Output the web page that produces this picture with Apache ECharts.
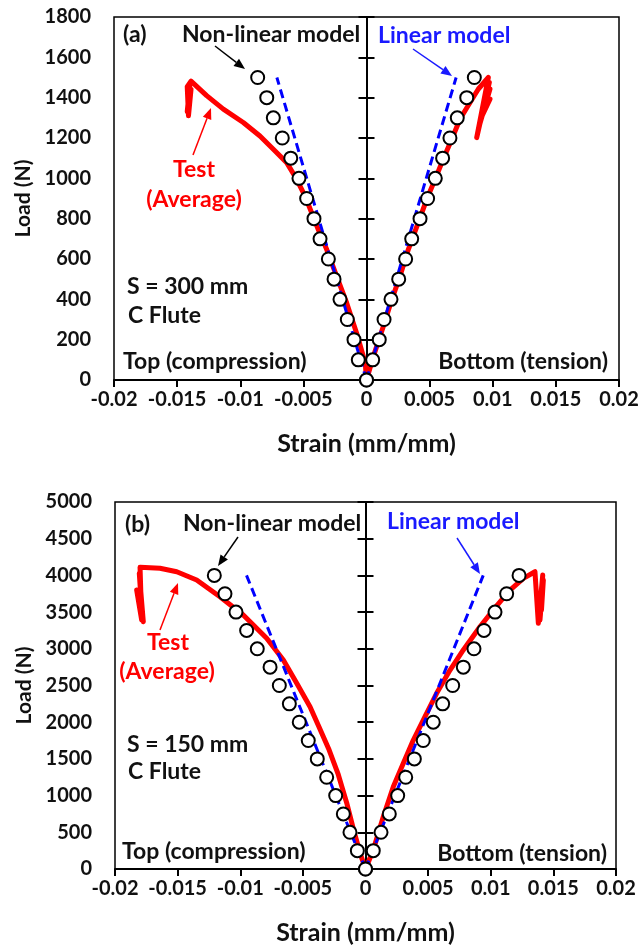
<!DOCTYPE html>
<html>
<head>
<meta charset="utf-8">
<script src="https://cdn.jsdelivr.net/npm/echarts@6/dist/echarts.min.js"></script>
<style>
  html, body { margin: 0; padding: 0; background: #fff; }
  #chart { width: 643px; height: 951px; }
</style>
</head>
<body>
<div id="chart"></div>
<script>
// x ticks (strain) shared by both panels
var strainTicks = [-0.02, -0.015, -0.01, -0.005, 0, 0.005, 0.01, 0.015, 0.02];
var strainLabels = ["-0.02", "-0.015", "-0.01", "-0.005", "0", "0.005", "0.01", "0.015", "0.02"];
var loadTicksA = [0, 200, 400, 600, 800, 1000, 1200, 1400, 1600, 1800];
var loadTicksB = [0, 500, 1000, 1500, 2000, 2500, 3000, 3500, 4000, 4500, 5000];

// (a) S = 300 mm
var nlLoadA = [0, 100, 200, 300, 400, 500, 600, 700, 800, 900, 1000, 1100, 1200, 1300, 1400, 1500];
var nlCompA = [0, -0.00065, -0.00099, -0.00152, -0.0021, -0.00257, -0.00302, -0.00368, -0.00416, -0.00474, -0.00535, -0.006, -0.00667, -0.00738, -0.0079, -0.00862];
var nlTensA = [0, 0.00049, 0.00101, 0.00139, 0.00194, 0.00255, 0.0031, 0.00358, 0.00424, 0.00484, 0.00545, 0.00603, 0.00661, 0.00719, 0.00794, 0.00854];
var linLoadA = [0, 1500];
var linCompA = [0, -0.0071];
var linTensA = [0, 0.0071];
var testCompStrainA = [0, -0.0001, -0.00078, -0.00157, -0.00236, -0.00315, -0.00382, -0.00434, -0.00487, -0.00553, -0.00632, -0.00738, -0.00844, -0.00976, -0.01134, -0.01266, -0.0139, -0.0142, -0.0141, -0.0139, -0.0142, -0.014, -0.0141];
var testCompLoadA = [0, 85, 232, 382, 514, 647, 746, 829, 912, 995, 1078, 1144, 1210, 1277, 1343, 1410, 1482, 1455, 1310, 1440, 1330, 1460, 1320];
var testTensStrainA = [0, 0.00054, 0.00133, 0.002, 0.00265, 0.00331, 0.0041, 0.00477, 0.00543, 0.00608, 0.00675, 0.00741, 0.0082, 0.00886, 0.00965, 0.00873, 0.00973, 0.00886, 0.00978, 0.00904, 0.00978];
var testTensLoadA = [0, 116, 265, 398, 514, 647, 780, 896, 995, 1095, 1194, 1294, 1376, 1443, 1500, 1202, 1476, 1244, 1443, 1294, 1393];

// (b) S = 150 mm
var nlLoadB = [0, 250, 500, 750, 1000, 1250, 1500, 1750, 2000, 2250, 2500, 2750, 3000, 3250, 3500, 3750, 4000];
var nlCompB = [0, -0.00065, -0.00124, -0.00177, -0.00238, -0.0031, -0.00385, -0.00457, -0.00529, -0.00608, -0.00688, -0.00762, -0.00864, -0.00949, -0.01034, -0.01122, -0.01207];
var nlTensB = [0, 0.00062, 0.00124, 0.0019, 0.00257, 0.00321, 0.0039, 0.00461, 0.00541, 0.00616, 0.00696, 0.00781, 0.00866, 0.00946, 0.01034, 0.01127, 0.01226];
var linLoadB = [0, 4000];
var linCompB = [0, -0.0095];
var linTensB = [0, 0.0094];
var testCompStrainB = [0, -0.0004, -0.0009, -0.0015, -0.0022, -0.0029, -0.0037, -0.00443, -0.00549, -0.00656, -0.00789, -0.00976, -0.01162, -0.01348, -0.01507, -0.01641, -0.018, -0.01787, -0.01827, -0.01774, -0.01806, -0.01784];
var testCompLoadB = [0, 200, 500, 900, 1300, 1620, 1930, 2211, 2530, 2847, 3143, 3460, 3710, 3937, 4050, 4097, 4110, 3392, 3801, 3369, 4028, 3460];
var testTensStrainB = [0, 0.00062, 0.00142, 0.00222, 0.00302, 0.00382, 0.00475, 0.00568, 0.00675, 0.00781, 0.00914, 0.0102, 0.01154, 0.0126, 0.01353, 0.0138, 0.01415, 0.01393, 0.0142, 0.01405];
var testTensLoadB = [0, 259, 712, 1121, 1440, 1757, 2075, 2394, 2711, 2984, 3301, 3529, 3801, 3960, 4050, 3347, 4005, 3392, 3937, 3529];

function zip(xs, ys) {
  return xs.map(function (x, i) { return [x, ys[i]]; });
}

var font = "Lato";
var txt = "#111";
var noteSize = 23;
var grids = [
  { left: 114, top: 17, width: 505, height: 363 },
  { left: 115, top: 502, width: 501, height: 367 }
];

var myChart = echarts.init(document.getElementById("chart"));

var xAxes = [], yAxes = [], series = [];
[0, 1].forEach(function (g) {
  xAxes.push({
    type: "value",
    gridIndex: g,
    min: strainTicks[0],
    max: strainTicks[strainTicks.length - 1],
    interval: 0.005,
    splitLine: { show: false },
    axisLine: { onZero: false, lineStyle: { color: "#000", width: 2 } },
    axisTick: { length: 7, lineStyle: { color: "#000", width: 2 } },
    axisLabel: {
      color: txt, fontSize: 20, fontWeight: "bold", fontFamily: font, margin: 10,
      formatter: function (v) { return strainLabels[Math.round((v + 0.02) / 0.005)]; }
    },
    name: "Strain (mm/mm)",
    nameLocation: "middle",
    nameGap: 51,
    nameTextStyle: { color: txt, fontSize: 25, fontWeight: "bold", fontFamily: font }
  });
  var ticks = g === 0 ? loadTicksA : loadTicksB;
  var lo = ticks[0], hi = ticks[ticks.length - 1], step = ticks[1] - ticks[0];
  var mid = -grids[g].width / 2;
  // labels on the left edge of the frame
  yAxes.push({
    type: "value", gridIndex: g, min: lo, max: hi, interval: step,
    splitLine: { show: false },
    axisLine: { show: false },
    axisTick: { show: false },
    axisLabel: {
      color: txt, fontSize: 20, fontWeight: "bold", fontFamily: font, margin: 23,
      formatter: function (v) { return String(v); }
    },
    name: "Load (N)",
    nameLocation: "middle",
    nameGap: 76,
    nameTextStyle: { color: txt, fontSize: 21, fontWeight: "bold", fontFamily: font }
  });
  // the vertical axis through zero strain, cross ticks
  yAxes.push({
    type: "value", gridIndex: g, min: lo, max: hi, interval: step, position: "left", offset: mid,
    splitLine: { show: false },
    axisLine: { lineStyle: { color: "#000", width: 2 } },
    axisTick: { length: 8, lineStyle: { color: "#000", width: 2 } },
    axisLabel: { show: false }
  });
  yAxes.push({
    type: "value", gridIndex: g, min: lo, max: hi, interval: step, position: "left", offset: mid,
    splitLine: { show: false },
    axisLine: { show: false },
    axisTick: { inside: true, length: 8, lineStyle: { color: "#000", width: 2 } },
    axisLabel: { show: false }
  });
});

var panels = [
  {
    test: [zip(testCompStrainA, testCompLoadA), zip(testTensStrainA, testTensLoadA)],
    lin: [zip(linCompA, linLoadA), zip(linTensA, linLoadA)],
    nl: [zip(nlCompA, nlLoadA), zip(nlTensA, nlLoadA)]
  },
  {
    test: [zip(testCompStrainB, testCompLoadB), zip(testTensStrainB, testTensLoadB)],
    lin: [zip(linCompB, linLoadB), zip(linTensB, linLoadB)],
    nl: [zip(nlCompB, nlLoadB), zip(nlTensB, nlLoadB)]
  }
];

panels.forEach(function (p, g) {
  var yi = g * 3;
  p.test.forEach(function (d) {
    series.push({
      type: "line", xAxisIndex: g, yAxisIndex: yi, data: d, showSymbol: false, z: 2,
      lineStyle: { color: "#ff0000", width: 5, join: "round", cap: "round" }
    });
  });
  p.lin.forEach(function (d) {
    series.push({
      type: "line", xAxisIndex: g, yAxisIndex: yi, data: d, showSymbol: false, z: 3,
      lineStyle: { color: "#0000ff", width: 3, type: [9, 5] }
    });
  });
  p.nl.forEach(function (d) {
    series.push({
      type: "scatter", xAxisIndex: g, yAxisIndex: yi, data: d, symbol: "circle", symbolSize: 13, z: 4,
      itemStyle: { color: "#fff", borderColor: "#000", borderWidth: 2, opacity: 1 }
    });
  });
});

function label(text, x, y, color, align) {
  return {
    type: "text", x: x, y: y, z: 10,
    style: {
      text: text, fill: color || txt, fontSize: noteSize, fontWeight: "bold", fontFamily: font,
      textAlign: align || "left", textVerticalAlign: "middle"
    }
  };
}

function arrow(x1, y1, x2, y2, color) {
  var a = Math.atan2(y2 - y1, x2 - x1), L = 11, W = 4.5;
  var bx = x2 - L * Math.cos(a), by = y2 - L * Math.sin(a);
  var px = -Math.sin(a) * W, py = Math.cos(a) * W;
  return [
    { type: "line", z: 10, shape: { x1: x1, y1: y1, x2: bx, y2: by }, style: { stroke: color, lineWidth: 1.5 } },
    { type: "polygon", z: 10, shape: { points: [[x2, y2], [bx + px, by + py], [bx - px, by - py]] }, style: { fill: color } }
  ];
}

var graphics = [
  label("(a)", 123, 35),
  label("Non-linear model", 182, 35),
  label("Linear model", 378, 36, "#1a1aff"),
  label("Test", 194, 170, "#ff0000", "center"),
  label("(Average)", 194, 200, "#ff0000", "center"),
  label("S = 300 mm", 127, 287),
  label("C Flute", 128, 316),
  label("Top (compression)", 123, 362),
  label("Bottom (tension)", 608, 362, txt, "right"),

  label("(b)", 125, 525),
  label("Non-linear model", 183, 524),
  label("Linear model", 387, 522, "#1a1aff"),
  label("Test", 168, 643, "#ff0000", "center"),
  label("(Average)", 167, 672, "#ff0000", "center"),
  label("S = 150 mm", 127, 745),
  label("C Flute", 128, 772),
  label("Top (compression)", 122, 852),
  label("Bottom (tension)", 607, 854, txt, "right")
]
  .concat(arrow(215, 46, 245, 69, "#000"))
  .concat(arrow(413, 49, 452, 76, "#1a1aff"))
  .concat(arrow(193, 155, 211, 108, "#ff0000"))
  .concat(arrow(238, 537, 218, 566, "#000"))
  .concat(arrow(457, 538, 480, 574, "#1a1aff"))
  .concat(arrow(160, 630, 178, 583, "#ff0000"));

var option = {
  animation: false,
  backgroundColor: "#fff",
  grid: grids.map(function (g) {
    return { left: g.left, top: g.top, width: g.width, height: g.height, show: true, borderColor: "#000", borderWidth: 1.5 };
  }),
  xAxis: xAxes,
  yAxis: yAxes,
  series: series,
  graphic: graphics
};
option && myChart.setOption(option);
</script>
</body>
</html>
